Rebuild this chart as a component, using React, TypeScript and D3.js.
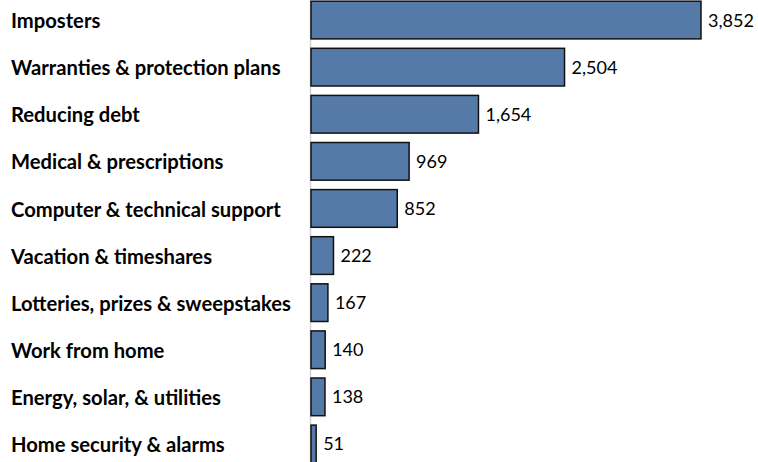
import React, { useRef, useEffect } from 'react';
import * as d3 from 'd3';

const categories = [
  'Imposters',
  'Warranties & protection plans',
  'Reducing debt',
  'Medical & prescriptions',
  'Computer & technical support',
  'Vacation & timeshares',
  'Lotteries, prizes & sweepstakes',
  'Work from home',
  'Energy, solar, & utilities',
  'Home security & alarms'
];
const values = [3852, 2504, 1654, 969, 852, 222, 167, 140, 138, 51];

const width = 758;
const height = 462;

const App: React.FC = () => {
  const ref = useRef<SVGSVGElement>(null);

  useEffect(() => {
    const svg = d3.select(ref.current);
    svg.selectAll('*').remove();

    const x0 = 311;
    const x = d3.scaleLinear().domain([0, 3852]).range([x0, 701]);
    const y = d3.scaleBand<string>()
      .domain(categories)
      .range([-3.5, 467.5])
      .paddingInner(0.2)
      .paddingOuter(0.1);

    const data = categories.map((c, i) => ({ c, v: values[i] }));

    // faint category axis line
    svg.append('line')
      .attr('x1', x0 - 0.5).attr('x2', x0 - 0.5)
      .attr('y1', 0).attr('y2', height)
      .attr('stroke', '#d4d4d4')
      .attr('stroke-width', 1.5);

    svg.append('g')
      .selectAll('rect')
      .data(data)
      .join('rect')
      .attr('x', x0)
      .attr('y', d => y(d.c)!)
      .attr('width', d => x(d.v) - x0)
      .attr('height', y.bandwidth())
      .attr('fill', '#567aa7')
      .attr('stroke', '#111')
      .attr('stroke-width', 1.5);

    svg.append('g')
      .selectAll('text')
      .data(data)
      .join('text')
      .attr('x', 11)
      .attr('y', d => y(d.c)! + y.bandwidth() / 2)
      .attr('dy', '0.4em')
      .attr('font-family', 'Lato, "Open Sans", sans-serif')
      .attr('font-weight', 'bold')
      .attr('font-size', 20.2)
      .attr('fill', '#000')
      .text(d => d.c);

    svg.append('g')
      .selectAll('text')
      .data(data)
      .join('text')
      .attr('x', d => x(d.v) + 7)
      .attr('y', d => y(d.c)! + y.bandwidth() / 2)
      .attr('dy', '0.36em')
      .attr('font-family', 'Lato, "Open Sans", sans-serif')
      .attr('font-size', 18)
      .attr('fill', '#000')
      .text(d => d3.format(',')(d.v));
  }, []);

  return (
    <svg
      ref={ref}
      width={width}
      height={height}
      style={{ position: 'absolute', left: 0, top: 0, background: '#fff' }}
    />
  );
};

export default App;
